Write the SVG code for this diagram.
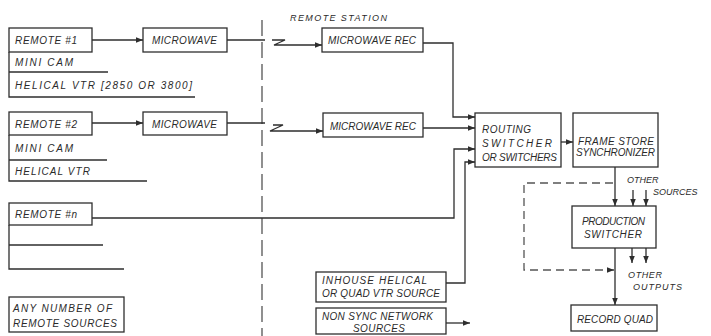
<svg xmlns="http://www.w3.org/2000/svg" width="711" height="336" viewBox="0 0 711 336">
<defs>
<marker id="ah" viewBox="0 0 10 10" refX="10" refY="5" markerWidth="7" markerHeight="7" markerUnits="userSpaceOnUse" orient="auto">
<path d="M0,1 L10,5 L0,9 Z" fill="#2e2e2e"/>
</marker>
<style>
rect.b{fill:#fff;stroke:#2e2e2e;stroke-width:1.3}
.ln{fill:none;stroke:#2e2e2e;stroke-width:1.3}
.ar{fill:none;stroke:#2e2e2e;stroke-width:1.3;marker-end:url(#ah)}
.dl{fill:none;stroke:#555;stroke-width:1.3;stroke-dasharray:16 6}
.dr{fill:none;stroke:#555;stroke-width:1.3;stroke-dasharray:8 5}
text{font-family:"Liberation Sans",Arial,sans-serif;font-style:italic;font-size:10px;fill:#2a2a2a}
.s{font-size:9px}
</style>
</defs>
<rect width="711" height="336" fill="#fff"/>

<g id="connectors">
<line class="dl" x1="262" y1="20" x2="262" y2="336"/>
<line class="ar" x1="92" y1="40" x2="143" y2="40"/>
<line class="ln" x1="227" y1="40" x2="265" y2="40"/>
<polyline class="ar" points="272,40 285,40 274,45 322,45"/>
<line class="ar" x1="92" y1="123" x2="143" y2="123"/>
<line class="ln" x1="227" y1="123" x2="265" y2="123"/>
<polyline class="ar" points="273,125 283,125 270,131 323,131"/>
<polyline class="ar" points="423,43 453,43 453,117 475,117"/>
<line class="ar" x1="423" y1="128" x2="475" y2="128"/>
<polyline class="ar" points="92,218 454,218 454,149 475,149"/>
<polyline class="ar" points="446,283 465,283 465,162 475,162"/>
<line class="ar" x1="446" y1="323" x2="470" y2="323"/>
<line class="ar" x1="561" y1="142" x2="573" y2="142"/>
<line class="ar" x1="615" y1="167" x2="615" y2="206"/>
<polyline class="dr" points="613,183 524,183 524,270 607,270"/>
<line class="ar" x1="607" y1="270" x2="614" y2="270"/>
<line class="ar" x1="633" y1="190" x2="633" y2="206"/>
<line class="ar" x1="646" y1="190" x2="646" y2="206"/>
<line class="ar" x1="615" y1="248" x2="615" y2="305"/>
<line class="ar" x1="632" y1="248" x2="632" y2="263"/>
<line class="ar" x1="646" y1="248" x2="646" y2="263"/>
</g>

<text class="s" x="290" y="21" textLength="97">REMOTE STATION</text>

<g id="remote1">
<rect class="b" x="9" y="28" width="83" height="24"/>
<polyline class="ln" points="9,52 9,97 195,97"/>
<line class="ln" x1="9" y1="72" x2="108" y2="72"/>
<text x="15" y="44" textLength="62">REMOTE #1</text>
<text x="15" y="66" textLength="58">MINI CAM</text>
<text x="15" y="89" textLength="177">HELICAL VTR [2850 OR 3800]</text>
</g>

<g id="microwave1">
<rect class="b" x="143" y="28" width="84" height="24"/>
<text x="152" y="44" textLength="65">MICROWAVE</text>
</g>

<g id="mwrec1">
<rect class="b" x="322" y="28" width="101" height="24"/>
<text x="328" y="44" textLength="88">MICROWAVE REC</text>
</g>

<g id="remote2">
<rect class="b" x="9" y="112" width="83" height="23"/>
<polyline class="ln" points="9,135 9,181 147,181"/>
<line class="ln" x1="9" y1="160" x2="107" y2="160"/>
<text x="15" y="128" textLength="62">REMOTE #2</text>
<text x="15" y="152" textLength="58">MINI CAM</text>
<text x="15" y="175" textLength="75">HELICAL VTR</text>
</g>

<g id="microwave2">
<rect class="b" x="143" y="112" width="84" height="23"/>
<text x="152" y="128" textLength="65">MICROWAVE</text>
</g>

<g id="mwrec2">
<rect class="b" x="323" y="113" width="100" height="24"/>
<text x="330" y="130" textLength="86">MICROWAVE REC</text>
</g>

<g id="remoten">
<rect class="b" x="9" y="203" width="83" height="22"/>
<polyline class="ln" points="9,225 9,269 124,269"/>
<line class="ln" x1="9" y1="245" x2="103" y2="245"/>
<text x="15" y="218" textLength="62">REMOTE #n</text>
</g>

<g id="anynumber">
<rect class="b" x="9" y="297" width="115" height="35"/>
<text x="13" y="312" textLength="99">ANY NUMBER OF</text>
<text x="13" y="327" textLength="104">REMOTE SOURCES</text>
</g>

<g id="inhouse">
<rect class="b" x="316" y="272" width="130" height="30"/>
<text x="322" y="284" textLength="105">INHOUSE HELICAL</text>
<text x="322" y="297" textLength="118">OR QUAD VTR SOURCE</text>
</g>

<g id="nonsync">
<rect class="b" x="316" y="308" width="130" height="26"/>
<text x="322" y="320" textLength="111">NON SYNC NETWORK</text>
<text x="353" y="332" textLength="52">SOURCES</text>
</g>

<g id="routing">
<rect class="b" x="475" y="113" width="86" height="54"/>
<text x="482" y="133" textLength="49">ROUTING</text>
<text x="482" y="147" textLength="70">SWITCHER</text>
<text x="482" y="161" textLength="75">OR SWITCHERS</text>
</g>

<g id="framestore">
<rect class="b" x="573" y="113" width="85" height="54"/>
<text x="578" y="145" textLength="76">FRAME STORE</text>
<text x="576" y="156" textLength="79">SYNCHRONIZER</text>
</g>

<g id="othersources">
<text class="s" x="627" y="183">OTHER</text>
<text class="s" x="653" y="195">SOURCES</text>
</g>

<g id="production">
<rect class="b" x="572" y="206" width="84" height="42"/>
<text x="582" y="225" textLength="63">PRODUCTION</text>
<text x="584" y="238" textLength="58">SWITCHER</text>
</g>

<g id="otheroutputs">
<text class="s" x="628" y="278" textLength="34">OTHER</text>
<text class="s" x="633" y="290" textLength="49">OUTPUTS</text>
</g>

<g id="record">
<rect class="b" x="571" y="305" width="86" height="26"/>
<text x="577" y="323" textLength="76">RECORD QUAD</text>
</g>
</svg>
